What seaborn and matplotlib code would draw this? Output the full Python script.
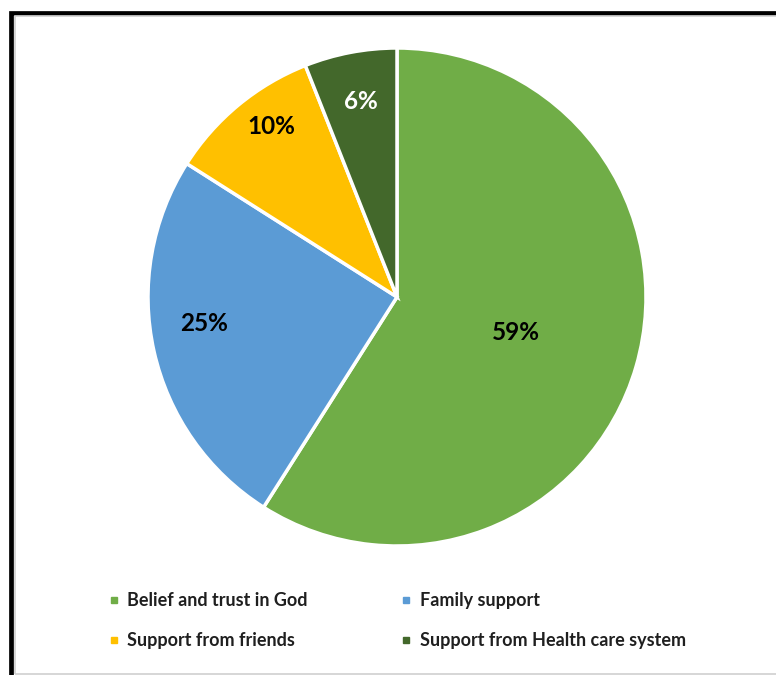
import matplotlib
matplotlib.use("Agg")
import matplotlib.pyplot as plt
from matplotlib.patches import Rectangle
from matplotlib.lines import Line2D
import numpy as np
import seaborn as sns

categories = ["Belief and trust in God", "Family support",
              "Support from friends", "Support from Health care system"]
shares = [59, 25, 10, 6]
slice_colors = ["#70AD47", "#5B9BD5", "#FFC000", "#43682B"]
label_colors = ["#000000", "#000000", "#000000", "#FFFFFF"]
# radial placement of each percentage label (fraction of radius) and angular nudge in degrees
label_radius = [0.50, 0.78, 0.85, 0.80]
label_nudge = [-0.5, -4.9, -3.3, -0.4]

sns.set_theme(style="white")
plt.rcParams["font.family"] = ["Lato", "DejaVu Sans"]

W, H = 776, 675
fig = plt.figure(figsize=(W / 100, H / 100), dpi=100)
fig.patch.set_facecolor("white")

# outer frame
fig.add_artist(Rectangle((10.5 / W, -0.1), 1.2, (H - 12.5) / H + 0.1,
                         transform=fig.transFigure, fill=False,
                         edgecolor="black", linewidth=3.4))
fig.add_artist(Rectangle((14.5 / W, 1.5 / H), 1.2, (H - 17) / H,
                         transform=fig.transFigure, fill=False,
                         edgecolor="#d0d0d0", linewidth=1.2))

cx, cy, r = 397, 297, 249
ax = fig.add_axes([(cx - r) / W, (H - cy - r) / H, 2 * r / W, 2 * r / H])
wedges, _ = ax.pie(shares, colors=slice_colors, startangle=90, counterclock=False,
                   radius=1.0,
                   wedgeprops=dict(edgecolor="white", linewidth=2.5))
ax.set_xlim(-1.0, 1.0)
ax.set_ylim(-1.0, 1.0)
ax.set_axis_off()

total = sum(shares)
start = 90.0
for val, frac, nudge, col in zip(shares, label_radius, label_nudge, label_colors):
    sweep = 360.0 * val / total
    mid = np.deg2rad(start - sweep / 2 + nudge)
    ax.text(frac * np.cos(mid), frac * np.sin(mid), f"{val}%",
            ha="center", va="center", fontsize=17.5, fontweight="bold", color=col)
    start -= sweep

# legend filled row by row: column 1 = entries 0 and 2, column 2 = entries 1 and 3
order = [0, 2, 1, 3]
handles = [Line2D([], [], marker="s", linestyle="none", markersize=4.5,
                  markerfacecolor=slice_colors[i], markeredgecolor=slice_colors[i])
           for i in order]
fig.legend(handles, [categories[i] for i in order], ncol=2, loc="upper left",
           bbox_to_anchor=(92 / W, 1 - 576 / H), frameon=False,
           handlelength=0.6, handletextpad=0.45,
           columnspacing=5.15, labelspacing=1.27,
           prop=dict(family=["Lato", "DejaVu Sans"], size=13, weight="bold"),
           labelcolor="#1f1f1f")

fig.savefig("out.png", dpi=100)
